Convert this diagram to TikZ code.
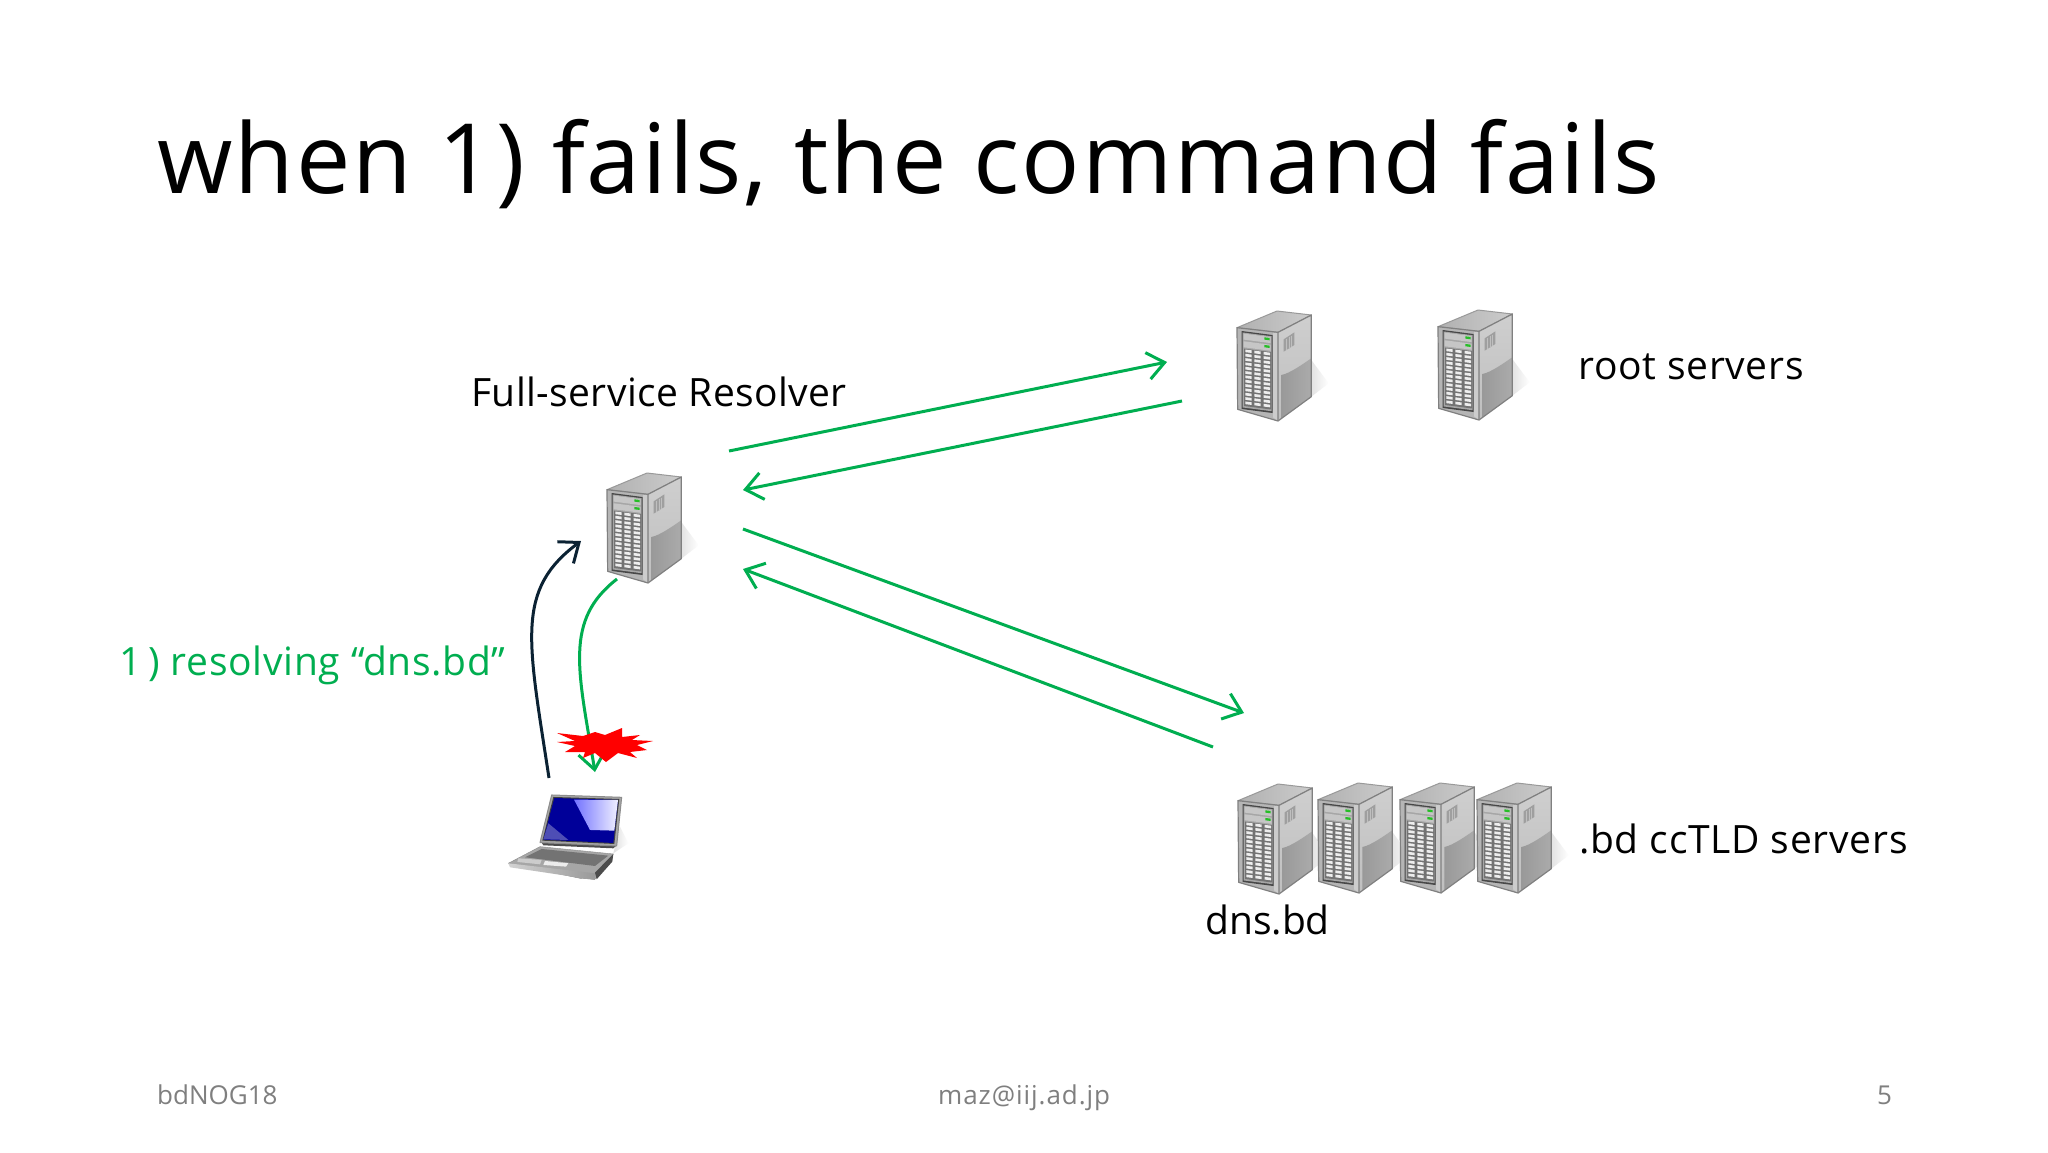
\documentclass[tikz,border=0pt]{standalone}
\usepackage{fontspec}
\setmainfont{Open Sans}
\usetikzlibrary{arrows.meta}
\definecolor{grn}{HTML}{00AE50}
\definecolor{ink}{HTML}{0B2233}
\definecolor{foot}{HTML}{7F7F7F}
\newcommand{\lsp}[1]{\addfontfeature{LetterSpace=#1}}
\tikzset{
 txt/.style={anchor=base west,inner sep=0pt,text=black},
 lab/.style={txt,font=\fontsize{39}{39}\selectfont},
 ftr/.style={txt,text=foot,font=\fontsize{26}{26}\selectfont},
 flow/.style={grn,line width=3pt,-{Straight Barb[length=17pt,width=27pt,line width=3pt]}},
 blackflow/.style={ink,line width=3pt,-{Straight Barb[length=17pt,width=27pt,line width=3pt]}},
 server/.pic={
  \begin{scope}[x=.3333pt,y=-.3333pt,shift={(-170,-93)},line join=round]
   \shade[left color=gray!22,right color=white] (393,350) -- (445,310) -- (393,240) -- cycle;
   \shade[left color=gray!62,right color=gray!40,draw=gray!80,line width=1pt] (170,143) -- (290,93) -- (393,105) -- (293,157) -- cycle;
   \shade[top color=gray!38,bottom color=gray!50] (293,157) -- (393,105) -- (393,350) -- (293,423) -- cycle;
   \shade[left color=gray!80,right color=gray!66] (303,285) .. controls (330,280) and (370,250) .. (393,235) -- (393,350) -- (303,415) -- cycle;
   \draw[gray!100,line width=1.2pt] (293,157) -- (393,105) -- (393,350) -- (293,423);
   \fill[gray!75] (310,178) -- (342,157) -- (342,195) -- (310,215) -- cycle;
   \foreach \v in {318,326,334}{\draw[gray!50,line width=.8pt] (\v,178-\v*0+\v*-0.65+206) -- ++(0,34);}
   \fill[gray!58] (170,143) -- (293,157) -- (293,423) -- (172,388) -- cycle;
   \fill[gray!40] (278,160) -- (293,157) -- (293,423) -- (278,412) -- cycle;
   \draw[gray!100,line width=1.2pt] (170,143) -- (293,157) -- (293,423) -- (172,388) -- cycle;
   \begin{scope}[cm={1,-0.13,0,1,(184,153)}]
    \fill[black!72] (0,0) rectangle (93,234);
    \fill[gray!70] (3,4) rectangle (90,229);
    \foreach \b in {7,30}{
     \fill[gray!45] (6,\b) rectangle (87,\b+18);
     \fill[green!70!black!85] (68,\b+3) rectangle (84,\b+10);
    }
    \fill[black!55] (7,52) rectangle (88,224);
    \foreach \c in {11,38,66}{
     \foreach \r in {0,...,12}{
      \fill[gray!14] (\c,54+\r*13) rectangle (\c+19,54+\r*13+8);
     }
    }
   \end{scope}
  \end{scope}
  \coordinate (-c) at (37,55);
 },
 laptop/.pic={
  \begin{scope}[x=.3333pt,y=-.3333pt,line join=round]
   \shade[left color=gray!25,right color=white] (400,1210) -- (445,1180) -- (420,1130) -- cycle;
   \fill[gray!70,draw=gray!90] (85,1240) -- (180,1190) -- (400,1212) -- (345,1288) -- (300,1285) -- cycle;
   \shade[left color=gray!35,right color=gray!80] (85,1240) -- (345,1270) -- (345,1290) -- (90,1252) -- cycle;
   \fill[black!70] (345,1268) -- (400,1212) -- (397,1235) -- (350,1288) -- cycle;
   \fill[black!55] (135,1222) -- (185,1197) -- (385,1217) -- (345,1248) -- cycle;
   \fill[gray!40] (115,1225) -- (185,1230) -- (180,1243) -- (112,1236) -- cycle;
   \fill[gray!15] (195,1233) -- (265,1240) -- (258,1250) -- (190,1245) -- cycle;
   \fill[black!70] (185,1178) -- (408,1188) -- (400,1195) -- (190,1186) -- cycle;
   \fill[gray!70,draw=gray!90,line width=1pt] (215,1035) -- (425,1042) -- (410,1188) -- (180,1178) -- cycle;
   \fill[black!75] (220,1041) -- (418,1047) -- (403,1182) -- (187,1172) -- cycle;
   \fill[blue!60!black] (223,1044) -- (414,1050) -- (400,1179) -- (190,1169) -- cycle;
   \shade[left color=blue!55!white,right color=blue!6] (282,1049) -- (414,1050) -- (403,1142) -- (330,1140) -- cycle;
   \fill[blue!40!gray!70,opacity=.6] (205,1120) -- (265,1170) -- (190,1168) -- cycle;
  \end{scope}
  \coordinate (-c) at (0,0);
 }
}
\begin{document}
\begin{tikzpicture}[x=1pt,y=-1pt]
\useasboundingbox[fill=white] (0,0) rectangle (2048,1152);

\node[txt,font=\fontsize{97}{97}\selectfont] (title) at (157,193) {\lsp{1.95}when 1) fails, the command fails};

\pic (res) at (607,473) {server};
\pic (r1) at (1237,311) {server};
\pic (r2) at (1438,310) {server};
\pic (b1) at (1238,784) {server};
\pic (b2) at (1318,783) {server};
\pic (b3) at (1400,783) {server};
\pic (b4) at (1477,783) {server};
\pic (lap) at (480,450) {laptop};

\node[lab] (fsr) at (471,406) {\lsp{1}Full-service Resolver};
\node[lab] (rs) at (1578,379) {\lsp{1.8}root servers};
\node[lab] (cc) at (1579,853) {\lsp{1.9}.bd ccTLD servers};
\node[lab] (dns) at (1205,934) {dns.bd};
\node[lab,text=grn] (lbl) at (119,675) {\lsp{1.8}1\kern7pt) resolving “dns.bd”};

\node[ftr] (f1) at (157,1104) {bdNOG18};
\node[ftr] (f2) at (938,1104) {\lsp{3.6}maz@iij.ad.jp};
\node[ftr] (f3) at (1877,1104) {5};

\coordinate (a1s) at (729,451); \coordinate (a1e) at (1167,362);
\coordinate (a2s) at (1182,401); \coordinate (a2e) at (743,490);
\coordinate (a3s) at (743,529); \coordinate (a3e) at (1244,713);
\coordinate (a4s) at (1213,747); \coordinate (a4e) at (743,569);
\coordinate (lapout) at (549,778); \coordinate (resin) at (581,541);
\coordinate (resout) at (617,579); \coordinate (lapin) at (595,772);
\draw[flow] (a1s) -- (a1e);
\draw[flow] (a2s) -- (a2e);
\draw[flow] (a3s) -- (a3e);
\draw[flow] (a4s) -- (a4e);
\draw[blackflow] (lapout) .. controls (528,640) and (515,590) .. (resin);
\draw[flow] (resout) .. controls (564,620) and (578,670) .. (lapin);

\fill[red] (557,733) -- (583,736) -- (595,732) -- (605,735) -- (622,728) -- (622,737) -- (640,735) -- (632,740) -- (653,741) -- (637,745) -- (647,750) -- (630,752) -- (637,758) -- (618,753) -- (606,762) -- (595,753) -- (583,758) -- (585,752) -- (565,752) -- (575,746) -- (557,742) -- (575,741) -- cycle;
\end{tikzpicture}
\end{document}
